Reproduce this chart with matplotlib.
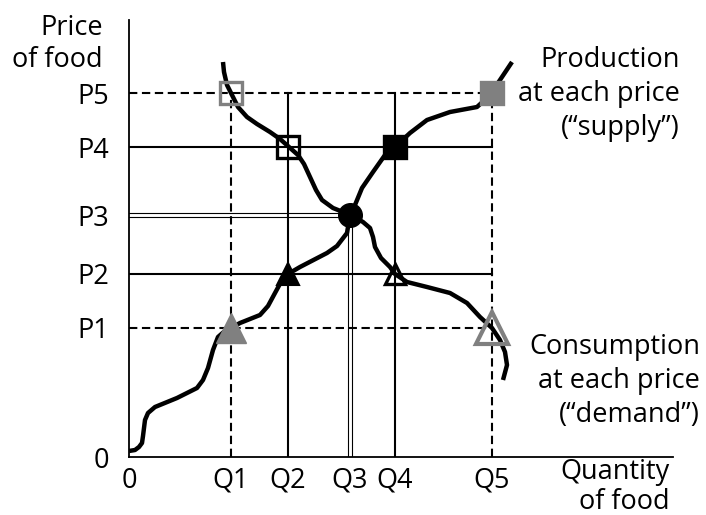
import matplotlib.pyplot as plt

plt.rcParams['font.family'] = ['Open Sans', 'DejaVu Sans']

# 価格・数量の水準 (任意単位)
q_levels = [102, 159, 221, 266, 363]   # Q1..Q5
p_levels = [129, 183, 242, 310, 364]   # P1..P5
q_labels = ['0', 'Q1', 'Q2', 'Q3', 'Q4', 'Q5']
p_labels = ['0', 'P1', 'P2', 'P3', 'P4', 'P5']

# 供給曲線 (読み取り値)
supply_q = [0, 6, 10, 13, 14, 16, 19, 26, 48, 68, 74, 79, 84, 89, 97, 102, 111, 131, 139, 146,
            152, 159, 171, 198, 208, 218, 221, 226, 233, 244, 256, 266, 281, 298, 321, 348, 360,
            371, 383]
supply_p = [6, 7, 10, 14, 21, 37, 44, 50, 59, 69, 77, 89, 107, 120, 127, 129, 134, 142, 151, 164,
            175, 183, 190, 204, 211, 224, 242, 252, 269, 285, 302, 310, 324, 337, 345, 350, 361,
            377, 395]

# 需要曲線 (読み取り値)
demand_q = [94, 95, 98, 102, 109, 118, 128, 141, 151, 160, 169, 175, 181, 187, 193, 204, 214, 221,
            234, 241, 244, 246, 252, 261, 266, 278, 298, 321, 338, 351, 363, 371, 376, 378, 374]
demand_p = [395, 385, 372, 364, 350, 340, 333, 325, 318, 310, 302, 293, 280, 267, 257, 249, 245, 242,
            235, 229, 220, 210, 199, 190, 183, 175, 170, 164, 154, 140, 129, 117, 105, 92, 77]

GRAY = '#808080'
DASH = (0, (4, 2.2))
FS = 19.5

fig = plt.figure(figsize=(7.06, 5.15), dpi=100)
ax = fig.add_axes([129 / 706, 1 - 457 / 515, 544 / 706, 437 / 515])
ax.set_xlim(0, 544)
ax.set_ylim(0, 437)
for s in ['top', 'right']:
    ax.spines[s].set_visible(False)
for s in ['left', 'bottom']:
    ax.spines[s].set_linewidth(1.3)

q1, q2, q3, q4, q5 = q_levels
p1, p2, p3, p4, p5 = p_levels

# 補助線
ax.plot([0, q5], [p5, p5], color='k', lw=1.5, ls=DASH)
ax.plot([0, q5], [p1, p1], color='k', lw=1.5, ls=DASH)
ax.plot([q1, q1], [0, p5], color='k', lw=1.5, ls=DASH)
ax.plot([q5, q5], [0, p5], color='k', lw=1.5, ls=DASH)
ax.plot([0, q5], [p4, p4], color='k', lw=1.5)
ax.plot([0, q5], [p2, p2], color='k', lw=1.5)
ax.plot([q2, q2], [0, p5], color='k', lw=1.5)
ax.plot([q4, q4], [0, p5], color='k', lw=1.5)
# 均衡点の二重線
for d in (-1.6, 1.6):
    ax.plot([0, q3], [p3 + d, p3 + d], color='k', lw=0.8)
    ax.plot([q3 + d, q3 + d], [0, p3], color='k', lw=0.8)

# 曲線
ax.plot(supply_q, supply_p, color='k', lw=3.2, solid_capstyle='butt', solid_joinstyle='round', zorder=3)
ax.plot(demand_q, demand_p, color='k', lw=3.2, solid_capstyle='butt', solid_joinstyle='round', zorder=3)

# マーカー
mk = dict(zorder=5, linestyle='none')
ax.plot(q1, p5, marker='s', ms=16, mfc='none', mec=GRAY, mew=2.4, **mk)
ax.plot(q2, p4, marker='s', ms=16, mfc='none', mec='k', mew=2.4, **mk)
ax.plot(q4, p4, marker='s', ms=16, mfc='k', mec='k', mew=2.4, **mk)
ax.plot(q5, p5, marker='s', ms=16, mfc=GRAY, mec=GRAY, mew=2.4, **mk)
ax.plot(q1, p1, marker='^', ms=22, mfc=GRAY, mec=GRAY, mew=1, **mk)
ax.plot(q2, p2, marker='^', ms=16, mfc='k', mec='k', mew=1.5, **mk)
ax.plot(q4, p2, marker='^', ms=15, mfc='none', mec='k', mew=2.4, **mk)
ax.plot(q5, p1, marker='^', ms=23, mfc='none', mec=GRAY, mew=3, **mk)
ax.plot(q3, p3, marker='o', ms=17, mfc='k', mec='k', **mk)

# 目盛り
ax.set_xticks([0] + q_levels)
ax.set_xticklabels(q_labels, fontsize=FS)
ax.set_yticks([0] + p_levels)
ax.set_yticklabels(p_labels, fontsize=FS)
ax.tick_params(length=0)
ax.tick_params(axis='x', pad=7)
ax.tick_params(axis='y', pad=14)

# ラベル
ax.text(-26, 413, 'Price\nof food', ha='right', va='center', fontsize=FS, linespacing=1.2)
ax.text(541, -30, 'Quantity\nof food', ha='right', va='center', fontsize=FS, linespacing=1.05)
ax.text(551, 363, 'Production\nat each price\n(\u201csupply\u201d)', ha='right', va='center',
        fontsize=FS, linespacing=1.3)
ax.text(571, 76, 'Consumption\nat each price\n(\u201cdemand\u201d)', ha='right', va='center',
        fontsize=FS, linespacing=1.3)

fig.savefig('out.png', dpi=100)
